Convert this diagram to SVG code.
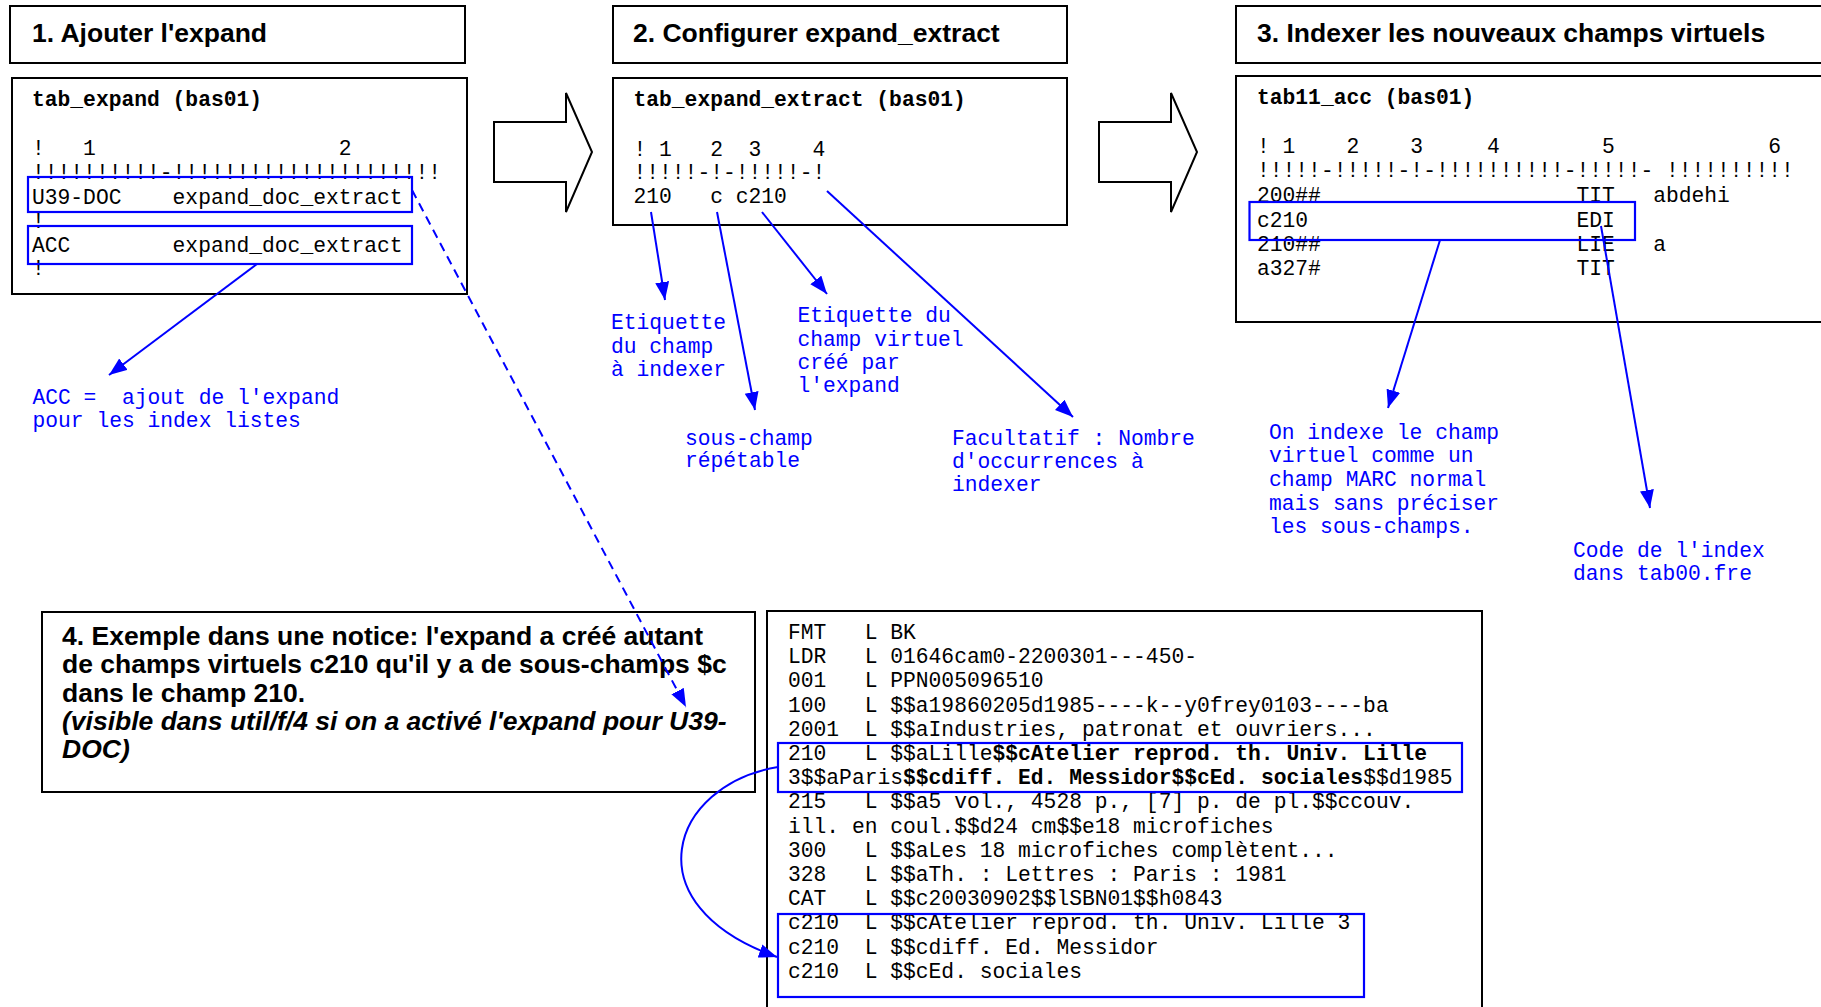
<svg xmlns="http://www.w3.org/2000/svg" width="1821" height="1007" viewBox="0 0 1821 1007">
<style>
.box{fill:#fff;stroke:#000;stroke-width:2}
.hl{fill:none;stroke:#0000ff;stroke-width:2.2}
.h{font-family:"Liberation Sans",Arial,sans-serif;font-weight:bold;font-size:26.5px;fill:#000}
.hi{font-style:italic}
.m{font-family:"Liberation Mono","Courier New",monospace;font-size:21.3px;fill:#000;white-space:pre}
.mb{font-weight:bold}
.lbl{font-family:"Liberation Mono","Courier New",monospace;font-size:21.3px;fill:#0000ff;white-space:pre}
.c{fill:none;stroke:#0000ff;stroke-width:2}
.big{fill:#fff;stroke:#000;stroke-width:2}
</style>
<defs>
<marker id="ah" markerUnits="userSpaceOnUse" markerWidth="20" markerHeight="16" refX="18" refY="7" orient="auto"><path d="M0,0 L18,7 L0,14 Z" fill="#0000ff"/></marker>
</defs>
<rect width="1821" height="1007" fill="#fff"/>

<g id="header1">
<rect class="box" x="10" y="6" width="455" height="57"/>
<text class="h" x="32" y="42">1. Ajouter l'expand</text>
</g>
<g id="table1">
<rect class="box" x="12" y="78" width="455" height="216"/>
<text class="m mb" x="32" y="106">tab_expand (bas01)</text>
<text class="m" x="32" y="155" xml:space="preserve">!   1                   2</text>
<text class="m" x="32" y="179">!!!!!!!!!!-!!!!!!!!!!!!!!!!!!!!!</text>
<text class="m" x="32" y="204" xml:space="preserve">U39-DOC    expand_doc_extract</text>
<text class="m" x="32" y="228">!</text>
<text class="m" x="32" y="252" xml:space="preserve">ACC        expand_doc_extract</text>
<text class="m" x="32" y="275">!</text>
<rect class="hl" x="28" y="177" width="384" height="35"/>
<rect class="hl" x="28" y="226" width="384" height="38"/>
</g>

<g id="header2">
<rect class="box" x="613" y="6" width="454" height="57"/>
<text class="h" x="633" y="42">2. Configurer expand_extract</text>
</g>
<g id="table2">
<rect class="box" x="613" y="78" width="454" height="147"/>
<text class="m mb" x="633.5" y="106">tab_expand_extract (bas01)</text>
<text class="m" x="633.5" y="156" xml:space="preserve">! 1   2  3    4</text>
<text class="m" x="633.5" y="179">!!!!!-!-!!!!!-!</text>
<text class="m" x="633.5" y="203" xml:space="preserve">210   c c210</text>
</g>

<g id="header3">
<rect class="box" x="1236" y="6" width="600" height="57"/>
<text class="h" x="1257" y="42">3. Indexer les nouveaux champs virtuels</text>
</g>
<g id="table3">
<rect class="box" x="1236" y="76" width="600" height="246"/>
<text class="m mb" x="1257" y="104">tab11_acc (bas01)</text>
<text class="m" x="1257" y="153" xml:space="preserve">! 1    2    3     4        5            6</text>
<text class="m" x="1257" y="177" xml:space="preserve">!!!!!-!!!!!-!-!!!!!!!!!!-!!!!!- !!!!!!!!!!</text>
<text class="m" x="1257" y="202" xml:space="preserve">200##                    TIT   abdehi</text>
<text class="m" x="1257" y="226.5" xml:space="preserve">c210                     EDI</text>
<text class="m" x="1257" y="250.5" xml:space="preserve">210##                    LIE   a</text>
<text class="m" x="1257" y="275" xml:space="preserve">a327#                    TIT</text>
<rect class="hl" x="1249.5" y="202" width="385.5" height="38"/>
</g>

<g id="note4">
<rect class="box" x="42" y="612" width="713" height="180"/>
<text class="h" x="62" y="645">4. Exemple dans une notice: l'expand a créé autant</text>
<text class="h" x="62" y="673">de champs virtuels c210 qu'il y a de sous-champs $c</text>
<text class="h" x="62" y="702">dans le champ 210.</text>
<text class="h hi" x="62" y="730">(visible dans util/f/4 si on a activé l'expand pour U39-</text>
<text class="h hi" x="62" y="758">DOC)</text>
</g>

<g id="notice">
<rect class="box" x="767" y="611" width="715" height="410"/>
<text class="m" x="788" y="639" xml:space="preserve">FMT   L BK</text>
<text class="m" x="788" y="663" xml:space="preserve">LDR   L 01646cam0-2200301---450-</text>
<text class="m" x="788" y="687" xml:space="preserve">001   L PPN005096510</text>
<text class="m" x="788" y="712" xml:space="preserve">100   L $$a19860205d1985----k--y0frey0103----ba</text>
<text class="m" x="788" y="736" xml:space="preserve">2001  L $$aIndustries, patronat et ouvriers...</text>
<text class="m" x="788" y="760" xml:space="preserve">210   L $$aLille<tspan class="mb">$$cAtelier reprod. th. Univ. Lille</tspan></text>
<text class="m" x="788" y="784" xml:space="preserve">3$$aParis<tspan class="mb">$$cdiff. Ed. Messidor$$cEd. sociales</tspan>$$d1985</text>
<text class="m" x="788" y="808" xml:space="preserve">215   L $$a5 vol., 4528 p., [7] p. de pl.$$ccouv.</text>
<text class="m" x="788" y="833" xml:space="preserve">ill. en coul.$$d24 cm$$e18 microfiches</text>
<text class="m" x="788" y="857" xml:space="preserve">300   L $$aLes 18 microfiches complètent...</text>
<text class="m" x="788" y="881" xml:space="preserve">328   L $$aTh. : Lettres : Paris : 1981</text>
<text class="m" x="788" y="905" xml:space="preserve">CAT   L $$c20030902$$lSBN01$$h0843</text>
<text class="m" x="788" y="929" xml:space="preserve">c210  L $$cAtelier reprod. th. Univ. Lille 3</text>
<text class="m" x="788" y="954" xml:space="preserve">c210  L $$cdiff. Ed. Messidor</text>
<text class="m" x="788" y="978" xml:space="preserve">c210  L $$cEd. sociales</text>
<rect class="hl" x="778" y="743" width="684" height="49"/>
<rect class="hl" x="778" y="914" width="586" height="83"/>
</g>

<g id="label-acc">
<text class="lbl" x="32.5" y="404" xml:space="preserve">ACC =  ajout de l'expand</text>
<text class="lbl" x="32.5" y="427" xml:space="preserve">pour les index listes</text>
</g>
<g id="label-etiquette">
<text class="lbl" x="611" y="329">Etiquette</text>
<text class="lbl" x="611" y="353" xml:space="preserve">du champ</text>
<text class="lbl" x="611" y="376" xml:space="preserve">à indexer</text>
</g>
<g id="label-virtuel">
<text class="lbl" x="797.5" y="322" xml:space="preserve">Etiquette du</text>
<text class="lbl" x="797.5" y="346" xml:space="preserve">champ virtuel</text>
<text class="lbl" x="797.5" y="369" xml:space="preserve">créé par</text>
<text class="lbl" x="797.5" y="392">l'expand</text>
</g>
<g id="label-souschamp">
<text class="lbl" x="685" y="445">sous-champ</text>
<text class="lbl" x="685" y="467">répétable</text>
</g>
<g id="label-facultatif">
<text class="lbl" x="952" y="445" xml:space="preserve">Facultatif : Nombre</text>
<text class="lbl" x="952" y="468" xml:space="preserve">d'occurrences à</text>
<text class="lbl" x="952" y="491">indexer</text>
</g>
<g id="label-indexe">
<text class="lbl" x="1269" y="439" xml:space="preserve">On indexe le champ</text>
<text class="lbl" x="1269" y="462" xml:space="preserve">virtuel comme un</text>
<text class="lbl" x="1269" y="486" xml:space="preserve">champ MARC normal</text>
<text class="lbl" x="1269" y="510" xml:space="preserve">mais sans préciser</text>
<text class="lbl" x="1269" y="533" xml:space="preserve">les sous-champs.</text>
</g>
<g id="label-code">
<text class="lbl" x="1573" y="557" xml:space="preserve">Code de l'index</text>
<text class="lbl" x="1573" y="580" xml:space="preserve">dans tab00.fre</text>
</g>

<g id="connectors">
<path class="big" d="M494,122 H566 V93 L592,152 L566,212 V182 H494 Z"/>
<path class="big" d="M1099,122 H1171 V93 L1197,152 L1171,212 V182 H1099 Z"/>
<line class="c" x1="257" y1="264" x2="109" y2="375" marker-end="url(#ah)"/>
<line class="c" x1="412" y1="190" x2="686" y2="707" stroke-dasharray="9,6" marker-end="url(#ah)"/>
<line class="c" x1="651" y1="212" x2="665" y2="300" marker-end="url(#ah)"/>
<line class="c" x1="717" y1="212" x2="755" y2="410" marker-end="url(#ah)"/>
<line class="c" x1="762" y1="212" x2="827" y2="294" marker-end="url(#ah)"/>
<line class="c" x1="827" y1="191" x2="1073" y2="417" marker-end="url(#ah)"/>
<line class="c" x1="1440" y1="240" x2="1388" y2="408" marker-end="url(#ah)"/>
<line class="c" x1="1601" y1="226" x2="1650" y2="508" marker-end="url(#ah)"/>
<path class="c" d="M778,767 C670,785 630,905 777,957" marker-end="url(#ah)"/>
</g>
</svg>
